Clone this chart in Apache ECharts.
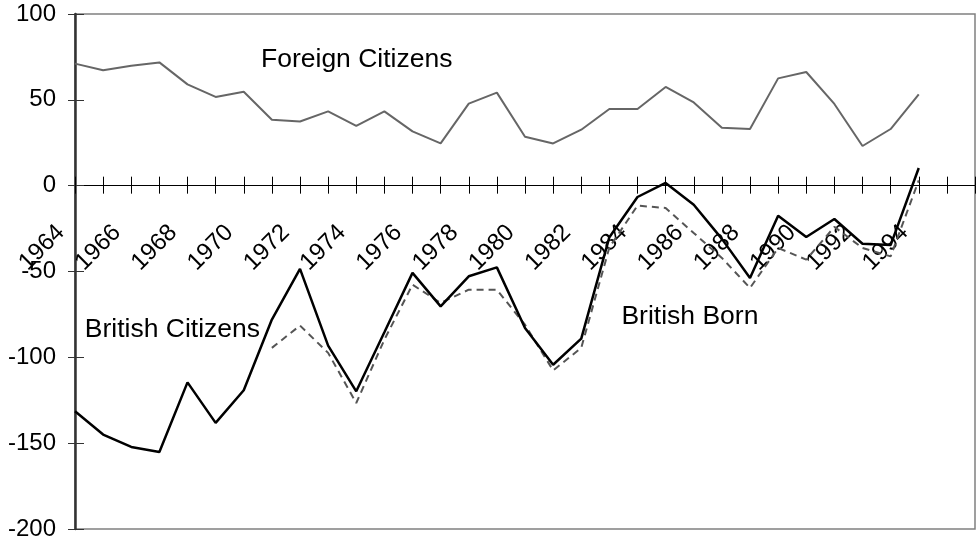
<!DOCTYPE html>
<html>
<head>
<meta charset="utf-8">
<script src="https://cdn.jsdelivr.net/npm/echarts@6/dist/echarts.min.js"></script>
<style>
html,body{margin:0;padding:0;background:#fff;}
#chart{width:976px;height:545px;}
</style>
</head>
<body>
<div id="chart"></div>
<script>
const years = ['1964','1965','1966','1967','1968','1969','1970','1971','1972','1973','1974','1975','1976','1977','1978','1979','1980','1981','1982','1983','1984','1985','1986','1987','1988','1989','1990','1991','1992','1993','1994','1995','1996'];
const foreignCitizens = [71.1,67.2,69.9,71.8,59.0,51.7,54.7,38.4,37.4,43.3,34.8,43.3,31.6,24.6,47.8,54.2,28.5,24.6,32.6,44.7,44.7,57.5,48.5,33.8,33.0,62.5,66.2,47.6,23.1,33.0,53.2];
const britishCitizens = [-131.4,-145,-152.2,-155.1,-114.6,-138.2,-119.2,-78,-48.5,-93.2,-119.8,-85.4,-50.8,-70.3,-52.8,-47.6,-82.9,-104.3,-89.1,-30,-6.6,1.6,-11.1,-31,-53.8,-17.5,-29.9,-19.4,-33.8,-34.6,10.3];
const britishBorn = [null,null,null,null,null,null,null,-94.5,-81.5,-97.4,-126.6,-89.7,-57.7,-68.3,-60.6,-60.6,-81,-107.6,-94.5,-36,-11.6,-13,-27.6,-42.1,-59.6,-36.3,-43.1,-24,-36.3,-41.2,3.1];
const yTicks = {min:-200, max:100, step:50};
const annotations = [
  {text:'Foreign Citizens', x:261, y:59.6},
  {text:'British Citizens', x:84.8, y:329.6},
  {text:'British Born', x:621.4, y:316.3}
];

const FONT = 'Liberation Sans, Arial, sans-serif';
const W = 976, H = 545;
const G = {left:75, right:1, top:14, bottom:16};
const plotH = H - G.top - G.bottom;
// distance from grid bottom up to the zero line (axis sits on y = 0)
const zeroOffset = plotH * (0 - yTicks.min) / (yTicks.max - yTicks.min);

const chart = echarts.init(document.getElementById('chart'), null, {renderer:'canvas'});
const labelShown = (i) => i % 2 === 0 && i < years.length - 1;

const option = {
  animation:false,
  backgroundColor:'#ffffff',
  textStyle:{fontFamily:FONT},
  grid:{left:G.left, right:G.right, top:G.top, bottom:G.bottom, containLabel:false, outerBoundsMode:'none',
        show:true, borderColor:'#808080', borderWidth:1.5, backgroundColor:'transparent'},
  xAxis:[
    {type:'category', data:years, boundaryGap:false, position:'bottom', offset:-zeroOffset,
     axisLine:{onZero:false, lineStyle:{color:'#000', width:1}},
     axisTick:{show:true, inside:false, length:8, interval:0, lineStyle:{color:'#000', width:1}},
     axisLabel:{interval:labelShown, rotate:45, margin:29, padding:[0,20,0,0], fontSize:24, color:'#000', fontFamily:FONT},
     splitLine:{show:false}},
    {type:'category', data:years, boundaryGap:false, position:'bottom', offset:-zeroOffset,
     axisLine:{onZero:false, show:false},
     axisTick:{show:true, inside:true, length:9, interval:0, lineStyle:{color:'#000', width:1}},
     axisLabel:{show:false}, splitLine:{show:false}}
  ],
  yAxis:[
    {type:'value', min:yTicks.min, max:yTicks.max, interval:yTicks.step, position:'left',
     axisLine:{show:true, onZero:false, lineStyle:{color:'#333', width:2.5}},
     axisTick:{show:true, inside:false, length:7, lineStyle:{color:'#333', width:1}},
     axisLabel:{fontSize:24, margin:19, color:'#000', fontFamily:FONT},
     splitLine:{show:false}},
    {type:'value', min:yTicks.min, max:yTicks.max, interval:yTicks.step, position:'left',
     axisLine:{show:false, onZero:false},
     axisTick:{show:true, inside:true, length:9, lineStyle:{color:'#333', width:1}},
     axisLabel:{show:false}, splitLine:{show:false}}
  ],
  series:[
    {name:'Foreign Citizens', type:'line', data:foreignCitizens, showSymbol:false, symbol:'none',
     lineStyle:{color:'#666666', width:2}, z:3},
    {name:'British Born', type:'line', data:britishBorn, showSymbol:false, symbol:'none', connectNulls:false,
     lineStyle:{color:'#555555', width:2, type:[7,5]}, z:3},
    {name:'British Citizens', type:'line', data:britishCitizens, showSymbol:false, symbol:'none',
     lineStyle:{color:'#000000', width:2.5}, z:4}
  ],
  graphic: annotations.map(a => ({
    type:'text', x:a.x, y:a.y, z:10,
    style:{text:a.text, fontSize:26.5, fontFamily:FONT, fill:'#000', verticalAlign:'middle', align:'left'}
  }))
};
chart.setOption(option);
</script>
</body>
</html>
